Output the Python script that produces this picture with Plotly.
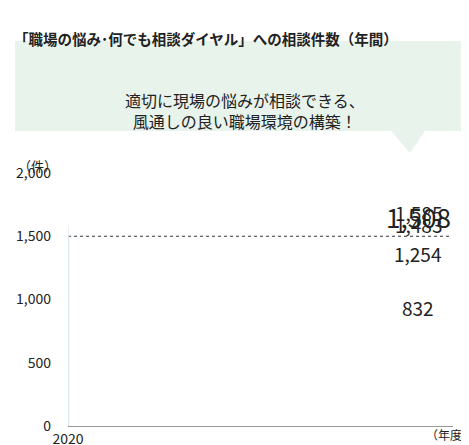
import plotly.graph_objects as go

years = ["2020", "2021", "2022", "2023", "2024"]
counts = [832, 1254, 1585, 1483, 1508]
bar_colors = ["#c8e2d2", "#c8e2d2", "#c8e2d2", "#c8e2d2", "#239a55"]
y_ticks = [0, 500, 1000, 1500, 2000]
y_labels = ["0", "500", "1,000", "1,500", "2,000"]

W, H = 469, 445
L, R, T, B = 60, 24, 165, 27


def px(x):
    return (x - L) / (W - L - R)


def py(y):
    return (H - B - y) / (H - T - B)


font = "Noto Sans CJK JP"
fig = go.Figure(go.Bar(x=years, y=counts, marker_color=bar_colors, width=0.5))

for i, (yr, v) in enumerate(zip(years, counts)):
    last = i == len(years) - 1
    fig.add_annotation(x=yr, y=v, text=f"{v:,}", showarrow=False, yanchor="bottom", yshift=-2,
                       font=dict(size=26 if last else 19, color="#222"))

fig.add_shape(type="line", xref="paper", yref="y", x0=0, x1=px(442), y0=1500, y1=1500,
              line=dict(color="#333", width=1, dash="dot"), layer="below")

# callout box with tail
bx0, bx1, by0, by1 = px(7), px(467), py(33), py(123)
fig.add_shape(type="path", xref="paper", yref="paper",
              path=f"M{bx0},{by0} L{bx1},{by0} L{bx1},{by1} L{px(417)},{by1} L{px(402)},{py(145)} "
                   f"L{px(383)},{by1} L{bx0},{by1} Z",
              fillcolor="#e8f3ec", line=dict(width=0))
fig.add_annotation(xref="paper", yref="paper", x=px(237), y=py(78), showarrow=False,
                   text="適切に現場の悩みが相談できる、<br>風通しの良い職場環境の構築！",
                   font=dict(size=16, color="#222"), align="center")
fig.add_annotation(xref="paper", yref="paper", x=px(4), y=py(18), xanchor="left", showarrow=False,
                   text="<b>「職場の悩み･何でも相談ダイヤル」への相談件数（年間）</b>",
                   font=dict(size=14.5, color="#222"))
fig.add_annotation(xref="paper", yref="paper", x=px(8), y=py(146), xanchor="left", showarrow=False,
                   text="（件）", font=dict(size=13, color="#222"))
fig.add_annotation(xref="paper", yref="paper", x=px(416), y=py(437), xanchor="left", showarrow=False,
                   text="（年度）", font=dict(size=12, color="#222"))

fig.update_layout(
    width=W, height=H, margin=dict(l=L, r=R, t=T, b=B, autoexpand=False),
    plot_bgcolor="white", paper_bgcolor="white", showlegend=False,
    font=dict(family=font, size=14, color="#222"),
    xaxis=dict(type="category", showline=True, linecolor="#999", linewidth=1, ticks="",
               showgrid=False),
    yaxis=dict(range=[0, 2000], tickvals=y_ticks, ticktext=y_labels, showgrid=False,
               zeroline=False, ticklabelstandoff=16),
)
fig.write_html("out.html")
